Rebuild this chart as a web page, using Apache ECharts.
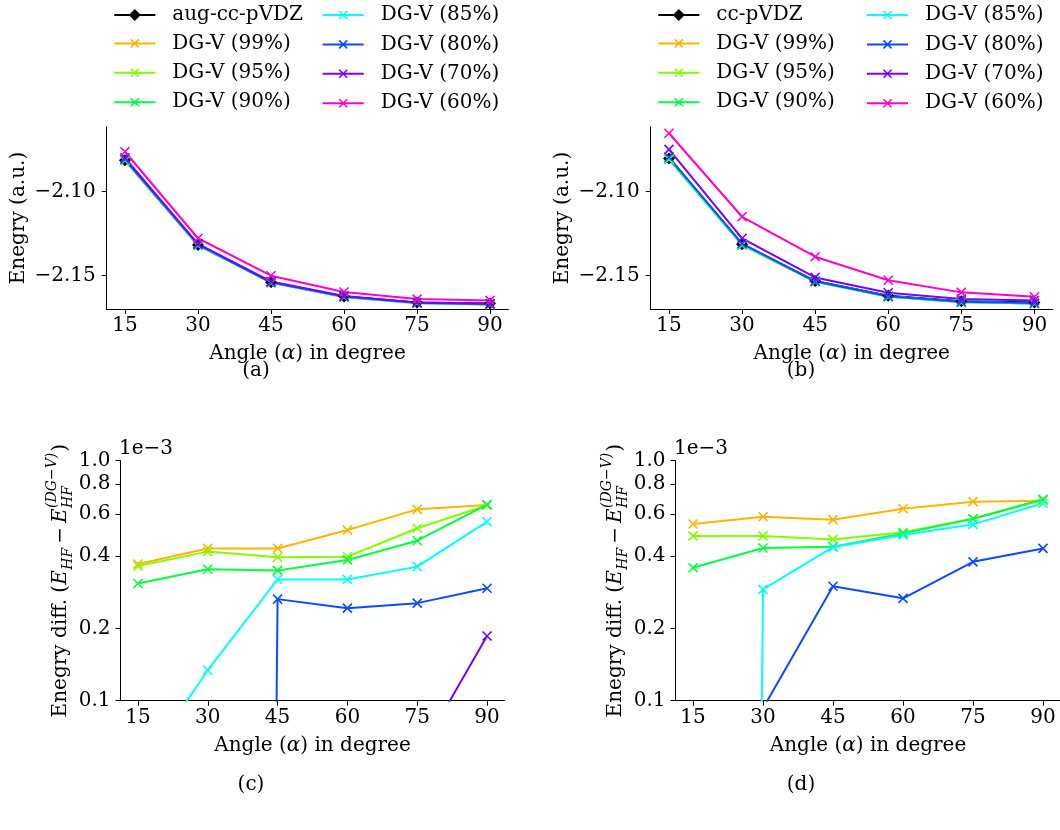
<!DOCTYPE html>
<html><head><meta charset="utf-8">
<script src="https://cdn.jsdelivr.net/npm/echarts@6/dist/echarts.min.js"></script>
<style>html,body{margin:0;padding:0;background:#fff}#c{width:1060px;height:830px}</style>
</head><body><div id="c"></div>
<script>
// ---------------- DATA ----------------
const angles = [15, 30, 45, 60, 75, 90];
const xTickValues = [15, 30, 45, 60, 75, 90];
const energyTickValues = [-2.15, -2.10];
const diffTickValues = [0.1, 0.2, 0.4, 0.6, 0.8, 1.0];   // x 1e-3

const refNameA = 'aug-cc-pVDZ';
const refNameB = 'cc-pVDZ';
const dgNames = ['DG-V (99%)', 'DG-V (95%)', 'DG-V (90%)', 'DG-V (85%)', 'DG-V (80%)', 'DG-V (70%)', 'DG-V (60%)'];
const refColor = '#000000';
const dgColors = ['#ffb400', '#80ff00', '#00ff3c', '#00ffff', '#0a4bff', '#7a00ff', '#ff00cc'];

// (a) energies, aug-cc-pVDZ basis (a.u.)
const aRef = [-2.0812, -2.1317, -2.1539, -2.1623, -2.1659, -2.1666];
const a99  = [-2.0814, -2.1319, -2.1541, -2.1627, -2.1664, -2.1671];
const a95  = [-2.0814, -2.1319, -2.1541, -2.1626, -2.1663, -2.1671];
const a90  = [-2.0813, -2.1318, -2.1540, -2.1626, -2.1663, -2.1671];
const a85  = [-2.0810, -2.1316, -2.1540, -2.1625, -2.1662, -2.1670];
const a80  = [-2.0807, -2.1313, -2.1539, -2.1624, -2.1661, -2.1668];
const a70  = [-2.0798, -2.1310, -2.1534, -2.1621, -2.1659, -2.1667];
const a60  = [-2.0762, -2.1277, -2.1500, -2.1597, -2.1639, -2.1647];

// (b) energies, cc-pVDZ basis (a.u.)
const bRef = [-2.0803, -2.1312, -2.1531, -2.1619, -2.1652, -2.1659];
const b99  = [-2.0807, -2.1317, -2.1536, -2.1625, -2.1658, -2.1665];
const b95  = [-2.0807, -2.1316, -2.1535, -2.1624, -2.1657, -2.1665];
const b90  = [-2.0806, -2.1315, -2.1534, -2.1624, -2.1657, -2.1665];
const b85  = [-2.0799, -2.1314, -2.1534, -2.1624, -2.1656, -2.1665];
const b80  = [-2.0795, -2.1309, -2.1533, -2.1622, -2.1655, -2.1662];
const b70  = [-2.0748, -2.1277, -2.1510, -2.1601, -2.1639, -2.1647];
const b60  = [-2.0652, -2.1149, -2.1387, -2.1527, -2.1599, -2.1625];

// (c) energy differences (x 1e-3 a.u.), aug-cc-pVDZ
const c99 = [0.371, 0.431, 0.431, 0.514, 0.627, 0.654];
const c95 = [0.364, 0.418, 0.396, 0.398, 0.523, 0.652];
const c90 = [0.308, 0.353, 0.349, 0.386, 0.464, 0.656];
const c85 = [0.050, 0.134, 0.320, 0.320, 0.362, 0.557];
const c80 = [-0.30, -0.10, 0.265, 0.243, 0.255, 0.294];
const c70 = [-1.20, -0.50, -0.30, -0.10, 0.058, 0.186];
const c60 = [-4.80, -3.80, -3.70, -2.50, -1.90, -1.80];

// (d) energy differences (x 1e-3 a.u.), cc-pVDZ
const d99 = [0.545, 0.584, 0.568, 0.631, 0.675, 0.681];
const d95 = [0.486, 0.486, 0.470, 0.503, 0.573, 0.686];
const d90 = [0.358, 0.433, 0.438, 0.498, 0.573, 0.691];
const d85 = [-0.20, 0.291, 0.436, 0.490, 0.543, 0.665];
const d80 = [-0.60, 0.093, 0.300, 0.267, 0.379, 0.431];
const d70 = [-5.40, -3.40, -2.00, -1.80, -1.20, -1.10];
const d60 = [-15.0, -16.2, -14.3, -9.20, -5.20, -3.30];

// ---------------- CHART ----------------
const FF = '"DejaVu Serif", serif';
const X_PATH = 'path://M0,0L10,10M10,0L0,10';
const chart = echarts.init(document.getElementById('c'), null, {renderer: 'canvas'});

const grids = [
  {left: 106.7, top: 126.7, width: 401.6, height: 182.3},
  {left: 650.7, top: 126.7, width: 402.0, height: 182.3},
  {left: 120.5, top: 460.7, width: 384.0, height: 240.0},
  {left: 675.5, top: 460.7, width: 385.0, height: 240.0}
].map(g => Object.assign({containLabel: false, outerBoundsMode: 'none', show: false}, g));

const axisLineS = {show: true, onZero: false, lineStyle: {color: '#000', width: 1}};
const tickS = {show: true, inside: false, length: 5, lineStyle: {color: '#000', width: 1}};
const labelS = {color: '#000', fontFamily: FF, fontSize: 20};

function xAxisFor(gi) {
  return {
    type: 'value', gridIndex: gi, min: 11.25, max: 93.75,
    axisLine: axisLineS,
    axisTick: Object.assign({customValues: xTickValues}, tickS),
    axisLabel: Object.assign({customValues: xTickValues, margin: 7}, labelS),
    splitLine: {show: false},
    name: 'Angle ({i|α}) in degree', nameLocation: 'middle', nameGap: 35,
    nameTextStyle: {color: '#000', fontFamily: FF, fontSize: 20,
      rich: {i: {fontStyle: 'italic', fontFamily: FF, fontSize: 20, color: '#000'}}}
  };
}
function energyYAxis(gi) {
  return {
    type: 'value', gridIndex: gi, min: -2.1698, max: -2.0613,
    axisLine: axisLineS,
    axisTick: Object.assign({customValues: energyTickValues}, tickS),
    axisLabel: Object.assign({customValues: energyTickValues, margin: 11,
      formatter: v => (v < 0 ? '\u2212' : '') + Math.abs(v).toFixed(2)}, labelS),
    splitLine: {show: false}
  };
}
function logYAxis(gi) {
  return {
    type: 'log', logBase: 10, gridIndex: gi, min: 0.1, max: 1.0,
    axisLine: axisLineS, axisTick: {show: false}, axisLabel: {show: false},
    splitLine: {show: false}, minorTick: {show: false}, minorSplitLine: {show: false}
  };
}
function logTickAxis(gi) {
  const tv = diffTickValues.map(v => Math.log10(v));
  return {
    type: 'value', gridIndex: gi, min: -1, max: 0, position: 'left',
    axisLine: {show: false},
    axisTick: Object.assign({customValues: tv}, tickS),
    axisLabel: Object.assign({customValues: tv, margin: 10,
      formatter: v => Math.pow(10, v).toFixed(1)}, labelS),
    splitLine: {show: false}
  };
}

const xAxes = [xAxisFor(0), xAxisFor(1), xAxisFor(2), xAxisFor(3)];
const yAxes = [energyYAxis(0), energyYAxis(1), logYAxis(2), logTickAxis(2), logYAxis(3), logTickAxis(3)];

function mkSeries(name, values, color, xi, yi, isRef, logClip) {
  return {
    type: 'line', name, xAxisIndex: xi, yAxisIndex: yi,
    data: angles.map((a, i) => [a, logClip ? (values[i] > 0 ? values[i] : 1e-30) : values[i]]),
    symbol: isRef ? 'diamond' : X_PATH,
    symbolSize: isRef ? 12 : 9,
    showSymbol: true, showAllSymbol: true,
    lineStyle: {color, width: 2},
    itemStyle: {color: color, borderColor: color, borderWidth: isRef ? 0 : 1.6},
    emphasis: {disabled: true},
    clip: true, animation: false
  };
}

const aSets = [a99, a95, a90, a85, a80, a70, a60];
const bSets = [b99, b95, b90, b85, b80, b70, b60];
const cSets = [c99, c95, c90, c85, c80, c70, c60];
const dSets = [d99, d95, d90, d85, d80, d70, d60];

const series = [];
series.push(mkSeries(refNameA, aRef, refColor, 0, 0, true, false));
aSets.forEach((v, i) => series.push(mkSeries(dgNames[i], v, dgColors[i], 0, 0, false, false)));
series.push(mkSeries(refNameB, bRef, refColor, 1, 1, true, false));
bSets.forEach((v, i) => series.push(mkSeries(dgNames[i], v, dgColors[i], 1, 1, false, false)));
cSets.forEach((v, i) => series.push(mkSeries(dgNames[i], v, dgColors[i], 2, 2, false, true)));
dSets.forEach((v, i) => series.push(mkSeries(dgNames[i], v, dgColors[i], 3, 4, false, true)));

function legendCol(names, left, top, iconH) {
  return {
    show: true, orient: 'vertical', left: left, top: top, padding: 0, itemGap: 9.4,
    itemWidth: 41, itemHeight: iconH, data: names, selectedMode: false,
    itemStyle: {borderWidth: iconH > 11 ? 0 : 1.6},
    formatter: n => '{g| }' + n,
    textStyle: {color: '#000', fontFamily: FF, fontSize: 20, lineHeight: 20,
      rich: {g: {width: 12, fontSize: 20, lineHeight: 20}}}
  };
}
const legends = [
  legendCol([refNameA], 113.3, 5, 15),
  legendCol(dgNames.slice(0, 3), 113.3, 33.4, 10),
  legendCol(dgNames.slice(3), 321.7, 5, 10),
  legendCol([refNameB], 657.3, 5, 15),
  legendCol(dgNames.slice(0, 3), 657.3, 33.4, 10),
  legendCol(dgNames.slice(3), 866, 5, 10)
];

// ---- text helpers ----
const mctx = document.createElement('canvas').getContext('2d');
function tw(t, size, italic) {
  mctx.font = (italic ? 'italic ' : '') + size + 'px "DejaVu Serif"';
  return mctx.measureText(t).width;
}
function txt(t, x, y, size, italic, align) {
  return {type: 'text', x: x, y: y, silent: true,
    style: {text: t, fill: '#000', fontFamily: FF, fontSize: size, fontStyle: italic ? 'italic' : 'normal',
      align: align || 'left', verticalAlign: 'middle'}};
}
function rotLabel(t, cx, cy) {
  return {type: 'group', x: cx, y: cy, rotation: Math.PI / 2, silent: true,
    children: [txt(t, 0, 0, 20, false, 'center')]};
}
function diffLabel(baseX, cy) {
  const M = 20, S = 14, k = 0.346;
  const parts = [];
  let x = 0;
  function put(t, size, italic, dy) { parts.push({t, size, italic, x, dy}); }
  put('Enegry diff. (', M, false, 0); x += tw('Enegry diff. (', M, false);
  put('E', M, true, 0); x += tw('E', M, true) + 0.5;
  put('HF', S, true, 5); x += tw('HF', S, true) + 4;
  put('\u2212', M, false, 0); x += tw('\u2212', M, false) + 4;
  put('E', M, true, 0); x += tw('E', M, true) + 0.5;
  put('HF', S, true, 5);
  put('(DG\u2212V)', S, true, -11);
  x += Math.max(tw('HF', S, true), tw('(DG\u2212V)', S, true)) + 1;
  put(')', M, false, 0); x += tw(')', M, false);
  const W = x;
  return {type: 'group', x: baseX, y: cy, rotation: Math.PI / 2, silent: true,
    children: parts.map(p => txt(p.t, p.x - W / 2, p.dy - k * p.size, p.size, p.italic, 'left'))};
}

const graphic = [
  rotLabel('Enegry (a.u.)', 19, 218),
  rotLabel('Enegry (a.u.)', 563, 218),
  diffLabel(68, 580.7),
  diffLabel(623, 580.7),
  txt('1e\u22123', 119, 449, 20, false, 'left'),
  txt('1e\u22123', 674, 449, 20, false, 'left'),
  txt('(a)', 256, 371, 20, false, 'center'),
  txt('(b)', 801, 371, 20, false, 'center'),
  txt('(c)', 251, 785, 20, false, 'center'),
  txt('(d)', 801, 785, 20, false, 'center')
];

chart.setOption({
  animation: false,
  backgroundColor: '#ffffff',
  textStyle: {fontFamily: FF},
  grid: grids, xAxis: xAxes, yAxis: yAxes,
  legend: legends, series: series, graphic: graphic
});
</script>
</body></html>
